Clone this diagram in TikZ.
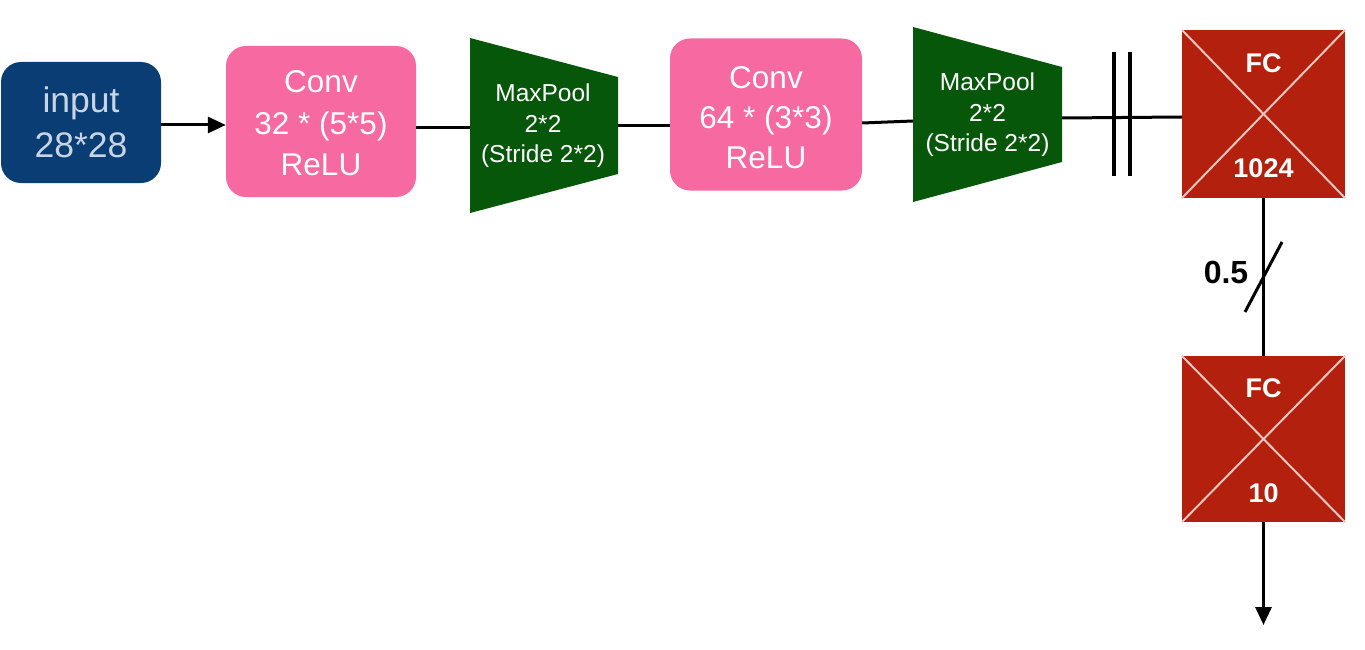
\documentclass[tikz,border=0pt]{standalone}
\usepackage{fontspec}
\setmainfont{Liberation Sans}
\usetikzlibrary{arrows.meta}
\definecolor{inblue}{HTML}{0A3D73}
\definecolor{intext}{HTML}{C8D5E5}
\definecolor{convpink}{HTML}{F76AA1}
\definecolor{poolgreen}{HTML}{06570A}
\definecolor{fcred}{HTML}{B3200D}
\definecolor{crossc}{HTML}{EAC6BF}
\begin{document}
\begin{tikzpicture}[x=1pt,y=-1pt,
  inbox/.style={fill=inblue, draw=none, rounded corners=20pt, text=intext, align=center,
     font=\fontsize{35.5}{45}\selectfont, inner sep=0pt},
  convbox/.style={fill=convpink, draw=none, rounded corners=20pt, inner sep=0pt},
  convtext/.style={text=white, align=center, inner sep=0pt},
  pooltext/.style={text=white, align=center, font=\fontsize{24.5}{30.5}\selectfont, inner sep=0pt},
  poolshape/.style={fill=poolgreen, draw=none},
  fcbox/.style={fill=fcred, draw=none, minimum width=163pt, inner sep=0pt},
  fclabel/.style={text=white, font=\bfseries\fontsize{27}{30}\selectfont, inner sep=0pt},
  crossline/.style={draw=crossc, line width=2pt},
  conn/.style={draw=black, line width=3pt},
  arr/.style={conn, -{Triangle[length=18pt,width=16pt]}},
  bar/.style={draw=black, line width=3.2pt}
]
\useasboundingbox (0,0) rectangle (1365,650);

% input
\node[inbox, minimum width=160pt, minimum height=121pt] (in) at (81,122.5) {input\\28*28};
% conv 1
\node[convbox, minimum width=190pt, minimum height=151pt] (c1) at (321,121.5) {};
\node[convtext, font=\fontsize{31.5}{41.5}\selectfont] (c1t) at (321,123.5) {Conv\\32 * (5*5)\\ReLU};
% maxpool 1
\path[poolshape] (470,38) -- (618,77) -- (618,174) -- (470,213) -- cycle;
\node[pooltext] (mp1) at (543,126) {MaxPool\\2*2\\(Stride 2*2)};
\coordinate (mp1in) at (470,128);
\coordinate (mp1out) at (618,126);
% conv 2
\node[convbox, minimum width=192pt, minimum height=152pt] (c2) at (766,114.5) {};
\node[convtext, font=\fontsize{31.5}{40}\selectfont] (c2t) at (766,118) {Conv\\64 * (3*3)\\ReLU};
% maxpool 2
\path[poolshape] (913,27) -- (1062,67) -- (1062,162) -- (913,202) -- cycle;
\node[pooltext] (mp2) at (987.5,115) {MaxPool\\2*2\\(Stride 2*2)};
\coordinate (mp2in) at (913,121);
\coordinate (mp2out) at (1062,118);
% FC 1
\node[fcbox, minimum height=168pt] (fc1) at (1263.5,114) {};
\draw[crossline] (fc1.north west) -- (fc1.south east);
\draw[crossline] (fc1.north east) -- (fc1.south west);
\node[fclabel] (fc1a) at ([yshift=51pt]fc1.center) {FC};
\node[fclabel] (fc1b) at ([yshift=-54pt]fc1.center) {1024};
% FC 2
\node[fcbox, minimum height=166pt] (fc2) at (1263.5,439) {};
\draw[crossline] (fc2.north west) -- (fc2.south east);
\draw[crossline] (fc2.north east) -- (fc2.south west);
\node[fclabel] (fc2a) at ([yshift=51pt]fc2.center) {FC};
\node[fclabel] (fc2b) at ([yshift=-54pt]fc2.center) {10};
% output
\coordinate (out) at (1263.5,625);

% connectors
\draw[arr] ([yshift=-2.5pt]in.east) -- ([yshift=-3.5pt]c1.west);
\draw[conn] (c1.east |- mp1in) -- (mp1in);
\draw[conn] (mp1out) -- (mp1out -| c2.west);
\draw[conn] ([yshift=-8.5pt]c2.east) -- (mp2in);
\draw[conn] (mp2out) -- ([yshift=-3pt]fc1.west);
\coordinate (b1t) at (1114,52);
\coordinate (b1b) at (1114,176);
\coordinate (b2t) at (1130,52);
\coordinate (b2b) at (1130,176);
\draw[bar] (b1t) -- (b1b);
\draw[bar] (b2t) -- (b2b);
\draw[conn] (fc1.south) -- (fc2.north);
\coordinate (s1) at (1245,312);
\coordinate (s2) at (1282,242);
\draw[conn] (s1) -- (s2);
\node[font=\bfseries\fontsize{32}{34}\selectfont, inner sep=0pt] (drop) at (1226,272) {0.5};
\draw[arr] (fc2.south) -- (out);
\end{tikzpicture}
\end{document}
